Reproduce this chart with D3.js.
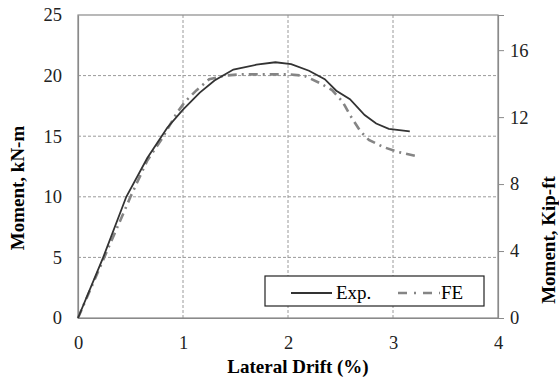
<!DOCTYPE html>
<html>
<head>
<meta charset="utf-8">
<script src="https://cdn.jsdelivr.net/npm/d3@7"></script>
<style>
  body { margin: 0; background: #fff; }
  svg { display: block; font-family: "Liberation Serif", "Times New Roman", serif; }
</style>
</head>
<body>
<svg width="559" height="380"></svg>
<script>
// lateral drift (%) vs moment (kN-m)
var expDrift = [0, 0.24, 0.46, 0.66, 0.85, 1.0, 1.16, 1.3, 1.48, 1.7, 1.88, 2.03, 2.2, 2.35, 2.46, 2.59, 2.73, 2.84, 2.96, 3.16];
var expMoment = [0, 5, 10, 13.2, 15.7, 17.2, 18.6, 19.6, 20.5, 20.9, 21.1, 20.95, 20.4, 19.7, 18.75, 18.05, 16.75, 16.05, 15.6, 15.4];

var feDrift = [0, 0.2, 0.32, 0.5, 0.66, 0.8, 0.94, 1.02, 1.13, 1.25, 1.4, 1.54, 1.69, 1.84, 2.02, 2.16, 2.3, 2.42, 2.52, 2.59, 2.69, 2.77, 2.91, 3.05, 3.23];
var feMoment = [0, 4.0, 6.4, 10.0, 13.0, 14.8, 16.9, 17.85, 18.8, 19.7, 20.0, 20.1, 20.1, 20.1, 20.1, 19.97, 19.4, 18.8, 17.85, 16.75, 15.4, 14.7, 14.1, 13.7, 13.35];

var xTicks = [0, 1, 2, 3, 4];
var yTicks = [0, 5, 10, 15, 20, 25];
var y2Ticks = [0, 4, 8, 12, 16];

var svg = d3.select("svg");
var m = {left: 78, right: 498, top: 15, bottom: 318};

var x = d3.scaleLinear().domain([0, 4]).range([m.left, m.right]);
var y = d3.scaleLinear().domain([0, 25]).range([m.bottom, m.top]);
var y2 = d3.scaleLinear().domain([0, 18.1]).range([m.bottom, m.top]);

// grid
svg.append("g").selectAll("line")
  .data(yTicks.filter(function(d){ return d > 0 && d < 25; }))
  .enter().append("line")
    .attr("x1", m.left).attr("x2", m.right)
    .attr("y1", function(d){ return y(d); })
    .attr("y2", function(d){ return y(d); })
    .attr("stroke", "#9a9a9a")
    .attr("stroke-dasharray", "3,2");

svg.append("g").selectAll("line")
  .data(xTicks.filter(function(d){ return d > 0 && d < 4; }))
  .enter().append("line")
    .attr("y1", m.top).attr("y2", m.bottom)
    .attr("x1", function(d){ return x(d); })
    .attr("x2", function(d){ return x(d); })
    .attr("stroke", "#9a9a9a")
    .attr("stroke-dasharray", "3,2");

// frame
svg.append("rect")
  .attr("x", m.left).attr("y", m.top)
  .attr("width", m.right - m.left).attr("height", m.bottom - m.top)
  .attr("fill", "none")
  .attr("stroke", "#8a8a8a")
  .attr("stroke-width", 1.2);

// axes
var xAxis = svg.append("g")
  .attr("transform", "translate(0," + m.bottom + ")")
  .call(d3.axisBottom(x).tickValues(xTicks).tickSize(0).tickPadding(18).tickFormat(d3.format("d")));
var yAxis = svg.append("g")
  .attr("transform", "translate(" + m.left + ",0)")
  .call(d3.axisLeft(y).tickValues(yTicks).tickSize(0).tickPadding(16));
var y2Axis = svg.append("g")
  .attr("transform", "translate(" + m.right + ",0)")
  .call(d3.axisRight(y2).tickValues(y2Ticks).tickSize(6).tickPadding(6));

[xAxis, yAxis, y2Axis].forEach(function(a){
  a.select(".domain").attr("stroke", "#8a8a8a").attr("stroke-width", 1.2);
  a.selectAll(".tick line").attr("stroke", "#8a8a8a");
  a.selectAll("text")
    .attr("fill", "#222")
    .style("font-family", "Liberation Serif")
    .style("font-size", "18.5px");
});

// curves
var line = d3.line()
  .x(function(d){ return x(d[0]); })
  .y(function(d){ return y(d[1]); });

svg.append("path")
  .datum(feDrift.map(function(d, i){ return [d, feMoment[i]]; }))
  .attr("d", line)
  .attr("fill", "none")
  .attr("stroke", "#858585")
  .attr("stroke-width", 2.6)
  .attr("stroke-dasharray", "9,5,2,5");

svg.append("path")
  .datum(expDrift.map(function(d, i){ return [d, expMoment[i]]; }))
  .attr("d", line)
  .attr("fill", "none")
  .attr("stroke", "#333")
  .attr("stroke-width", 1.8);

// axis titles
svg.append("text")
  .attr("x", 298).attr("y", 373)
  .attr("text-anchor", "middle")
  .style("font-weight", "bold").style("font-size", "19px")
  .text("Lateral Drift (%)");

svg.append("text")
  .attr("transform", "translate(24,188) rotate(-90)")
  .attr("text-anchor", "middle")
  .style("font-weight", "bold").style("font-size", "19px")
  .text("Moment, kN-m");

svg.append("text")
  .attr("transform", "translate(555,240) rotate(-90)")
  .attr("text-anchor", "middle")
  .style("font-weight", "bold").style("font-size", "19px")
  .text("Moment, Kip-ft");

// legend
var lg = svg.append("g");
lg.append("rect")
  .attr("x", 265).attr("y", 276).attr("width", 219).attr("height", 30)
  .attr("fill", "#fff").attr("stroke", "#222").attr("stroke-width", 1.2);
lg.append("line")
  .attr("x1", 291).attr("x2", 332).attr("y1", 293).attr("y2", 293)
  .attr("stroke", "#333").attr("stroke-width", 1.8);
lg.append("text").attr("x", 336).attr("y", 299)
  .style("font-size", "19px").text("Exp.");
lg.append("line")
  .attr("x1", 398).attr("x2", 440).attr("y1", 293).attr("y2", 293)
  .attr("stroke", "#858585").attr("stroke-width", 2.6)
  .attr("stroke-dasharray", "9,7,2,7");
lg.append("text").attr("x", 441).attr("y", 299)
  .style("font-size", "19px").text("FE");
</script>
</body>
</html>
